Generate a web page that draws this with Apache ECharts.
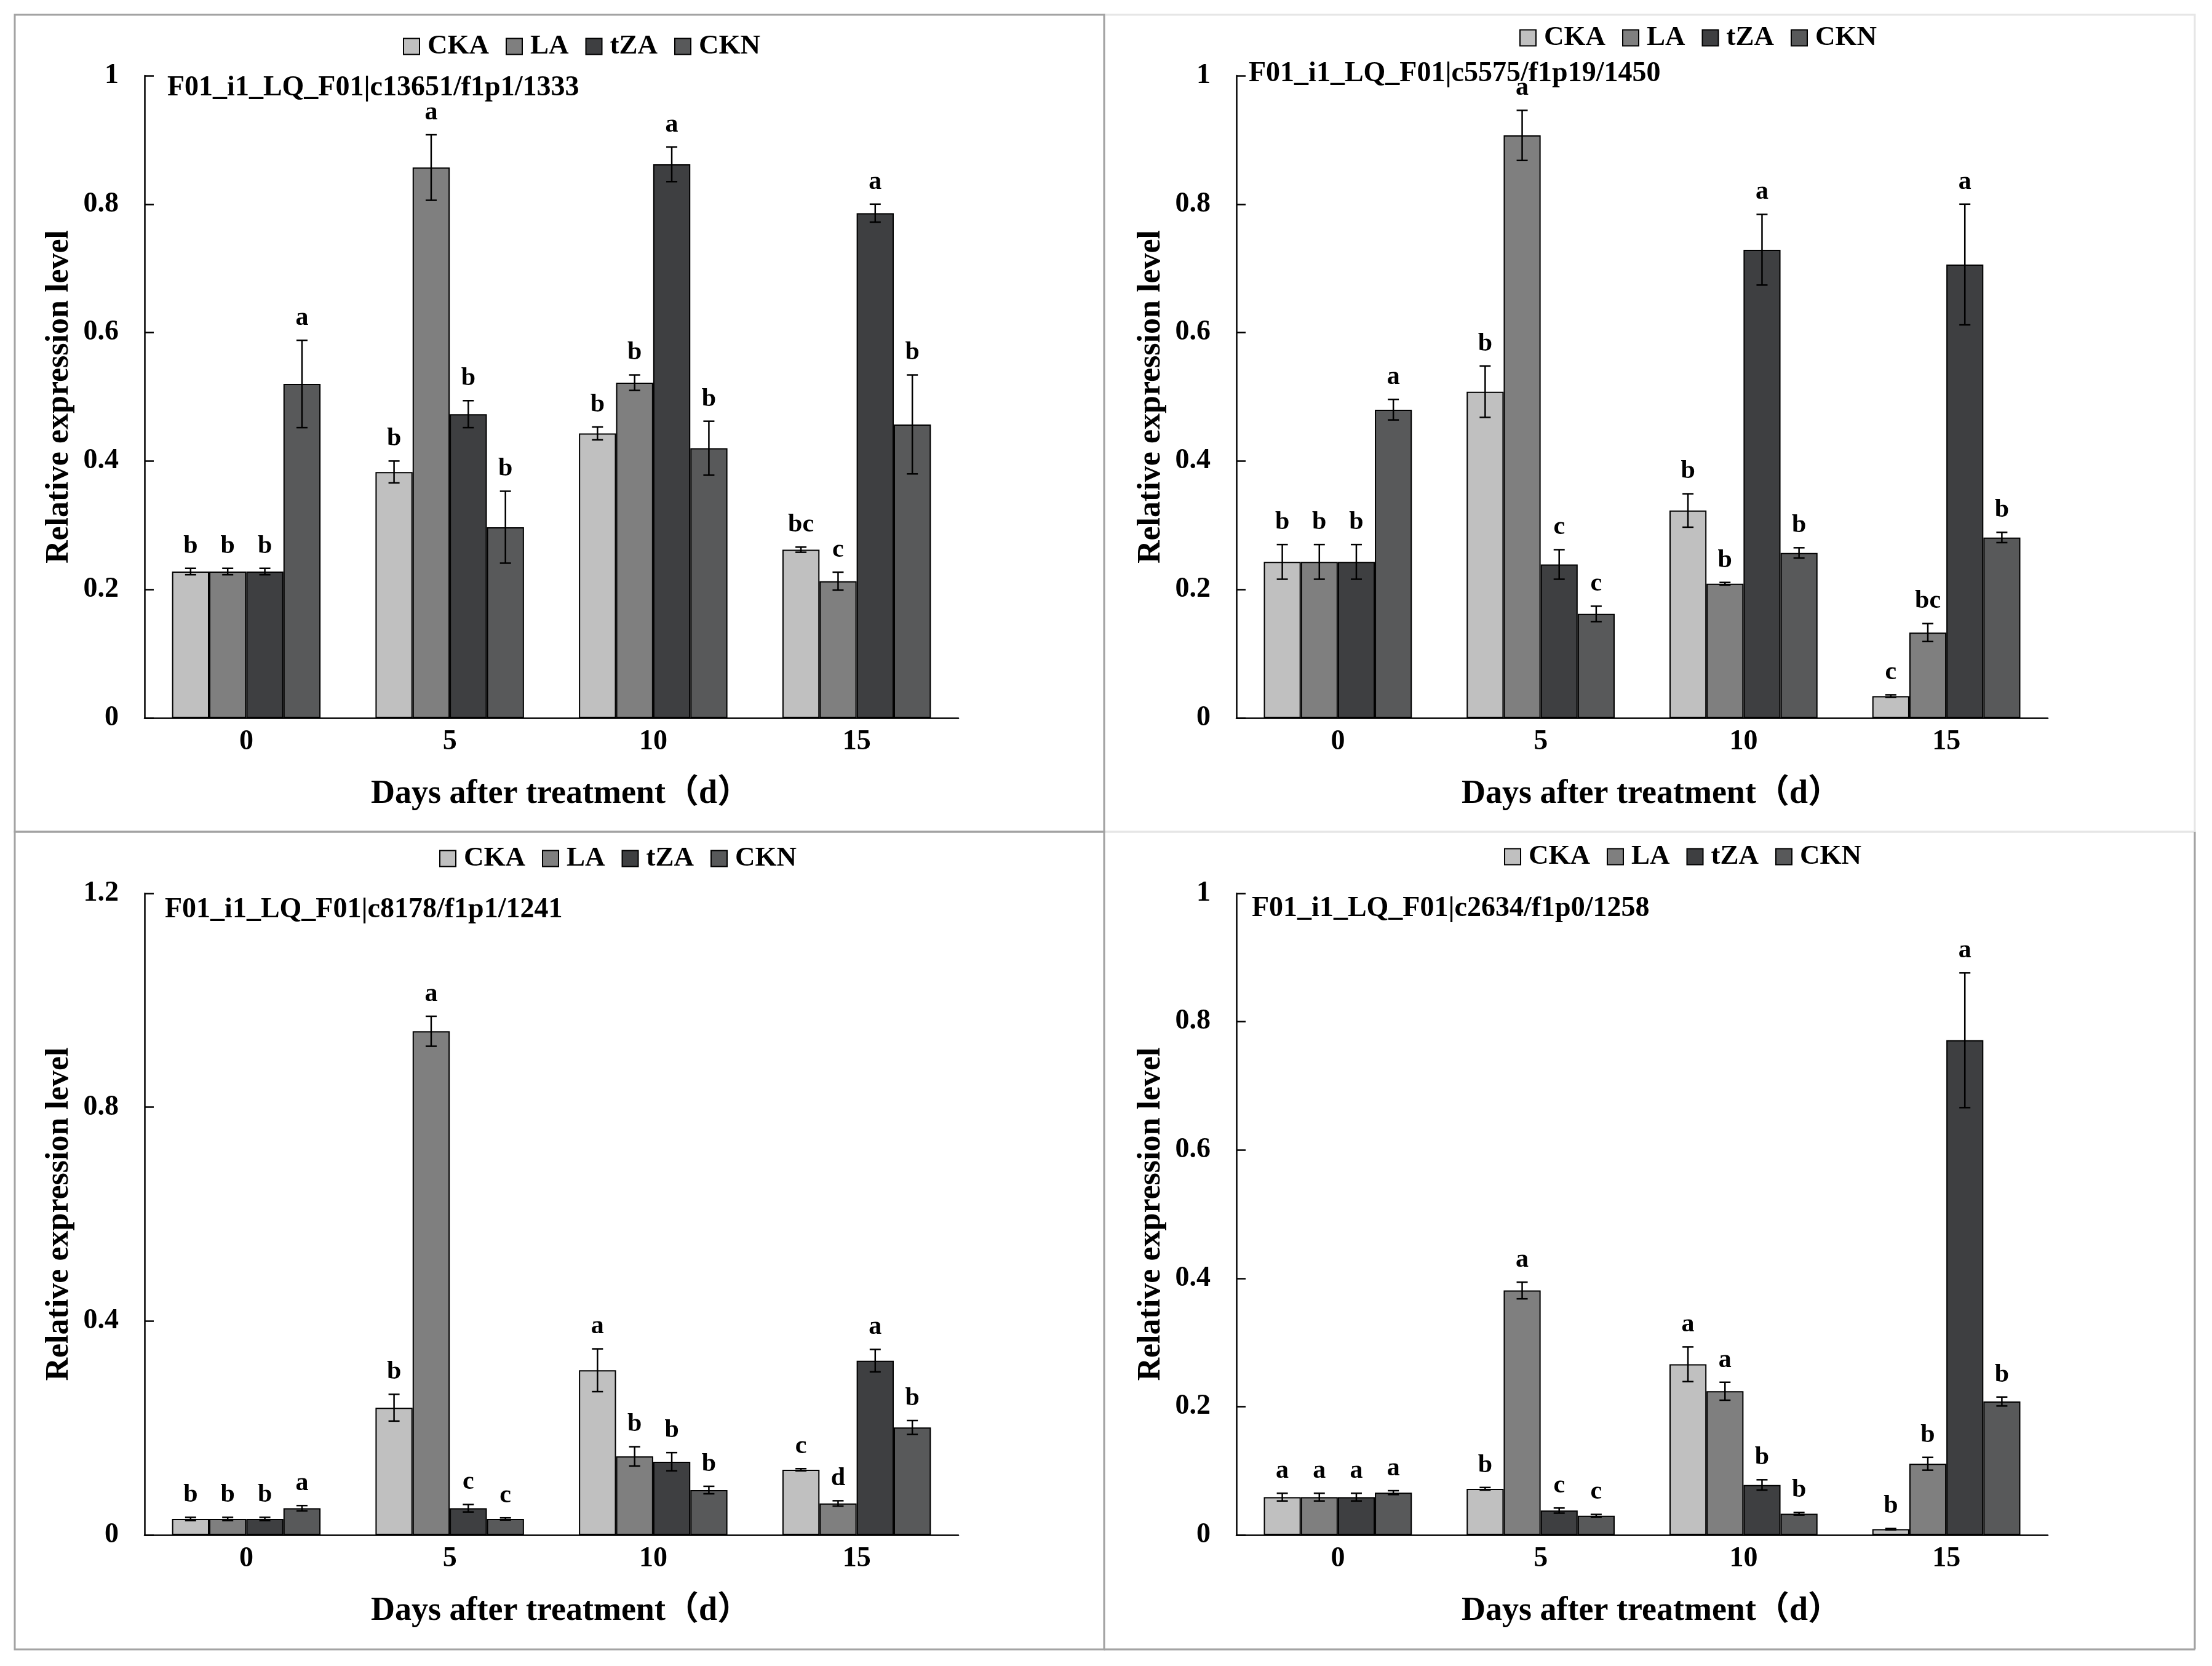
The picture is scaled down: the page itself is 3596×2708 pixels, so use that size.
<!DOCTYPE html>
<html>
<head>
<meta charset="utf-8">
<script src="https://cdn.jsdelivr.net/npm/echarts@6/dist/echarts.min.js"></script>
<style>
html,body{margin:0;padding:0;background:#fff;}
#chart{width:3596px;height:2708px;}
</style>
</head>
<body>
<div id="chart"></div>
<script>
// ---------- DATA ----------
const days = ['0', '5', '10', '15'];
const groups = ['CKA', 'LA', 'tZA', 'CKN'];
const yTicks1 = [0, 0.2, 0.4, 0.6, 0.8, 1];
const yTicks3 = [0, 0.4, 0.8, 1.2];

// Panel 1 (top-left)
const p1Title = 'F01_i1_LQ_F01|c13651/f1p1/1333';
const p1CKA = [0.228, 0.383, 0.443, 0.262];
const p1LA  = [0.228, 0.857, 0.522, 0.213];
const p1tZA = [0.228, 0.473, 0.862, 0.786];
const p1CKN = [0.520, 0.297, 0.420, 0.457];
const p1ErrCKA = [0.005, 0.017, 0.010, 0.004];
const p1ErrLA  = [0.005, 0.051, 0.012, 0.014];
const p1ErrtZA = [0.005, 0.021, 0.027, 0.014];
const p1ErrCKN = [0.068, 0.056, 0.042, 0.077];
const p1SigCKA = ['b', 'b', 'b', 'bc'];
const p1SigLA  = ['b', 'a', 'b', 'c'];
const p1SigtZA = ['b', 'b', 'a', 'a'];
const p1SigCKN = ['a', 'b', 'b', 'b'];

// Panel 2 (top-right)
const p2Title = 'F01_i1_LQ_F01|c5575/f1p19/1450';
const p2CKA = [0.243, 0.508, 0.323, 0.034];
const p2LA  = [0.243, 0.907, 0.209, 0.133];
const p2tZA = [0.243, 0.239, 0.729, 0.706];
const p2CKN = [0.480, 0.162, 0.257, 0.281];
const p2ErrCKA = [0.027, 0.040, 0.026, 0.002];
const p2ErrLA  = [0.027, 0.039, 0.002, 0.014];
const p2ErrtZA = [0.027, 0.023, 0.055, 0.094];
const p2ErrCKN = [0.016, 0.012, 0.008, 0.008];
const p2SigCKA = ['b', 'b', 'b', 'c'];
const p2SigLA  = ['b', 'a', 'b', 'bc'];
const p2SigtZA = ['b', 'c', 'a', 'a'];
const p2SigCKN = ['a', 'c', 'b', 'b'];

// Panel 3 (bottom-left)
const p3Title = 'F01_i1_LQ_F01|c8178/f1p1/1241';
const p3CKA = [0.030, 0.238, 0.308, 0.122];
const p3LA  = [0.030, 0.942, 0.147, 0.059];
const p3tZA = [0.030, 0.050, 0.137, 0.326];
const p3CKN = [0.050, 0.030, 0.084, 0.201];
const p3ErrCKA = [0.003, 0.025, 0.040, 0.002];
const p3ErrLA  = [0.003, 0.028, 0.018, 0.005];
const p3ErrtZA = [0.003, 0.007, 0.017, 0.021];
const p3ErrCKN = [0.005, 0.002, 0.007, 0.013];
const p3SigCKA = ['b', 'b', 'a', 'c'];
const p3SigLA  = ['b', 'a', 'b', 'd'];
const p3SigtZA = ['b', 'c', 'b', 'a'];
const p3SigCKN = ['a', 'c', 'b', 'b'];

// Panel 4 (bottom-right)
const p4Title = 'F01_i1_LQ_F01|c2634/f1p0/1258';
const p4CKA = [0.059, 0.072, 0.266, 0.009];
const p4LA  = [0.059, 0.381, 0.224, 0.111];
const p4tZA = [0.059, 0.038, 0.078, 0.771];
const p4CKN = [0.066, 0.030, 0.033, 0.208];
const p4ErrCKA = [0.006, 0.002, 0.027, 0.001];
const p4ErrLA  = [0.006, 0.013, 0.014, 0.010];
const p4ErrtZA = [0.006, 0.004, 0.008, 0.105];
const p4ErrCKN = [0.003, 0.002, 0.002, 0.007];
const p4SigCKA = ['a', 'b', 'a', 'b'];
const p4SigLA  = ['a', 'a', 'a', 'b'];
const p4SigtZA = ['a', 'c', 'b', 'a'];
const p4SigCKN = ['a', 'c', 'b', 'b'];

const xTitle = 'Days after treatment（d）';
const yTitle = 'Relative expression level';

// ---------- STYLE / LAYOUT ----------
const FAM = "'Liberation Serif', 'Times New Roman', 'Noto Sans CJK SC', serif";
const colors = ['#c0c0c0', '#7f7f7f', '#3e3f41', '#58595a'];
const GAP = 0.27;

const panels = [
  { title: p1Title, means: [p1CKA, p1LA, p1tZA, p1CKN], errs: [p1ErrCKA, p1ErrLA, p1ErrtZA, p1ErrCKN], sigs: [p1SigCKA, p1SigLA, p1SigtZA, p1SigCKN], ticks: yTicks1,
    grid: { left: 235, top: 123, width: 1323, height: 1044 }, legend: { left: 655, top: 53 }, titlePos: { left: 272, top: 120 } },
  { title: p2Title, means: [p2CKA, p2LA, p2tZA, p2CKN], errs: [p2ErrCKA, p2ErrLA, p2ErrtZA, p2ErrCKN], sigs: [p2SigCKA, p2SigLA, p2SigtZA, p2SigCKN], ticks: yTicks1,
    grid: { left: 2010, top: 123, width: 1319, height: 1044 }, legend: { left: 2470, top: 39 }, titlePos: { left: 2030, top: 97 } },
  { title: p3Title, means: [p3CKA, p3LA, p3tZA, p3CKN], errs: [p3ErrCKA, p3ErrLA, p3ErrtZA, p3ErrCKN], sigs: [p3SigCKA, p3SigLA, p3SigtZA, p3SigCKN], ticks: yTicks3,
    grid: { left: 235, top: 1452, width: 1323, height: 1043 }, legend: { left: 714, top: 1373 }, titlePos: { left: 268, top: 1456 } },
  { title: p4Title, means: [p4CKA, p4LA, p4tZA, p4CKN], errs: [p4ErrCKA, p4ErrLA, p4ErrtZA, p4ErrCKN], sigs: [p4SigCKA, p4SigLA, p4SigtZA, p4SigCKN], ticks: yTicks1,
    grid: { left: 2010, top: 1452, width: 1319, height: 1043 }, legend: { left: 2445, top: 1370 }, titlePos: { left: 2035, top: 1454 } }
];

function makeRender(k, errArr, sigArr) {
  return function (params, api) {
    const i = api.value(0);
    const m = api.value(1);
    const e = errArr[params.dataIndex];
    const band = api.size([1, 0])[0];
    const bw = band * (1 - GAP) / 4;
    const c = api.coord([i, m]);
    const x = c[0] - 2 * bw + (k + 0.5) * bw;
    const yTop = api.coord([i, m + e])[1];
    const yBot = api.coord([i, Math.max(0, m - e)])[1];
    const cap = 9;
    const ls = { stroke: '#000', lineWidth: 2.5 };
    return {
      type: 'group',
      children: [
        { type: 'line', shape: { x1: x, y1: yTop, x2: x, y2: yBot }, style: ls },
        { type: 'line', shape: { x1: x - cap, y1: yTop, x2: x + cap, y2: yTop }, style: ls },
        { type: 'line', shape: { x1: x - cap, y1: yBot, x2: x + cap, y2: yBot }, style: ls },
        { type: 'text', x: x, y: yTop - 15,
          style: { text: sigArr[params.dataIndex], fill: '#000', fontSize: 42, fontWeight: 'bold', fontFamily: FAM,
                   align: 'center', verticalAlign: 'bottom' } }
      ]
    };
  };
}

const option = {
  animation: false,
  backgroundColor: '#fff',
  title: [], legend: [], grid: [], xAxis: [], yAxis: [], series: [],
  graphic: []
};

panels.forEach((p, pi) => {
  option.grid.push(Object.assign({ containLabel: false }, p.grid));
  option.title.push({ text: p.title, left: p.titlePos.left, top: p.titlePos.top, padding: 0,
    textStyle: { fontFamily: FAM, fontWeight: 'bold', fontSize: 46, color: '#000' } });
  option.legend.push({ data: groups, left: p.legend.left, top: p.legend.top, padding: 0,
    itemWidth: 26, itemHeight: 26, itemGap: 27, icon: 'rect', selectedMode: false,
    textStyle: { fontFamily: FAM, fontWeight: 'bold', fontSize: 45, color: '#000', padding: [0, 0, 0, 8] } });
  const tks = p.ticks;
  option.xAxis.push({ type: 'category', gridIndex: pi, data: days,
    axisLine: { lineStyle: { color: '#000', width: 2.5 } },
    axisTick: { inside: true, length: 15, lineStyle: { color: '#000', width: 2.5 } },
    axisLabel: { fontFamily: FAM, fontWeight: 'bold', fontSize: 46, color: '#000', margin: 16 },
    name: xTitle, nameLocation: 'middle', nameGap: 97,
    nameTextStyle: { fontFamily: FAM, fontWeight: 'bold', fontSize: 54, color: '#000', padding: [0, 0, 0, 30] },
    splitLine: { show: false } });
  option.yAxis.push({ type: 'value', gridIndex: pi, min: tks[0], max: tks[tks.length - 1], interval: tks[1] - tks[0],
    axisLine: { show: true, lineStyle: { color: '#000', width: 2.5 } },
    axisTick: { show: true, inside: true, length: 15, lineStyle: { color: '#000', width: 2.5 } },
    axisLabel: { fontFamily: FAM, fontWeight: 'bold', fontSize: 46, color: '#000', margin: 42 },
    name: yTitle, nameLocation: 'middle', nameGap: 112,
    nameTextStyle: { fontFamily: FAM, fontWeight: 'bold', fontSize: 52, color: '#000' },
    splitLine: { show: false } });
  groups.forEach((g, k) => {
    option.series.push({ type: 'bar', name: g, xAxisIndex: pi, yAxisIndex: pi, data: p.means[k],
      barGap: '0%', barCategoryGap: (GAP * 100) + '%',
      itemStyle: { color: colors[k], borderColor: '#000', borderWidth: 2 }, z: 2 });
  });
  groups.forEach((g, k) => {
    option.series.push({ type: 'custom', name: g + '_err', xAxisIndex: pi, yAxisIndex: pi,
      data: p.means[k].map((v, i) => [i, v]), encode: { x: 0, y: 1 }, z: 5,
      renderItem: makeRender(k, p.errs[k], p.sigs[k]) });
  });
});

// panel frames
const dark = '#a3a3a3', light = '#e6e6e6';
option.graphic = [
  { type: 'rect', shape: { x: 1795, y: 24, width: 1773, height: 1328 }, style: { fill: 'none', stroke: light, lineWidth: 3 }, z: 0 },
  { type: 'rect', shape: { x: 1795, y: 1352, width: 1773, height: 1329 }, style: { fill: 'none', stroke: light, lineWidth: 3 }, z: 0 },
  { type: 'rect', shape: { x: 24, y: 24, width: 1771, height: 1328 }, style: { fill: 'none', stroke: dark, lineWidth: 3 }, z: 1 },
  { type: 'rect', shape: { x: 24, y: 1352, width: 1771, height: 1329 }, style: { fill: 'none', stroke: dark, lineWidth: 3 }, z: 1 },
  { type: 'line', shape: { x1: 3568, y1: 1352, x2: 3568, y2: 2681 }, style: { stroke: dark, lineWidth: 3 }, z: 1 },
  { type: 'line', shape: { x1: 1795, y1: 2681, x2: 3568, y2: 2681 }, style: { stroke: dark, lineWidth: 3 }, z: 1 }
];

const chart = echarts.init(document.getElementById('chart'), null, { renderer: 'canvas' });
chart.setOption(option);
</script>
</body>
</html>
